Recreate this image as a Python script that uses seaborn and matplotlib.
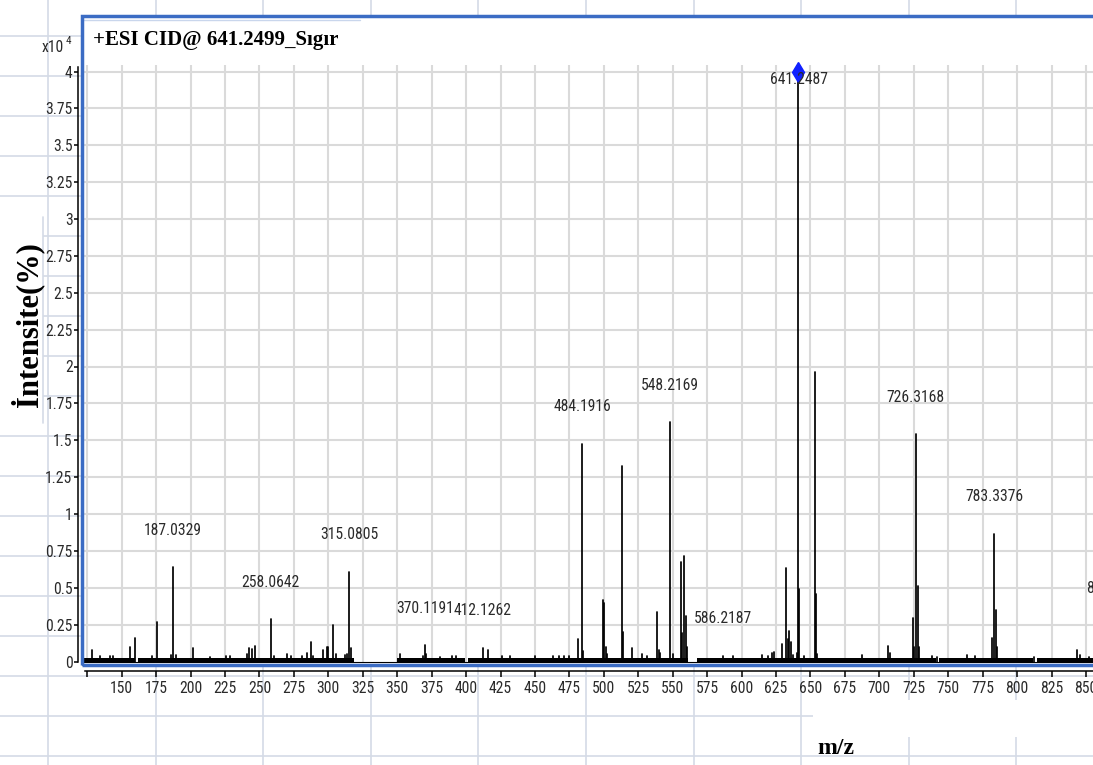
import numpy as np
import pandas as pd
import matplotlib
matplotlib.use("Agg")
import matplotlib.pyplot as plt
from matplotlib import font_manager
from matplotlib.font_manager import FontProperties
from matplotlib.lines import Line2D
from matplotlib.patches import Rectangle
from matplotlib.textpath import TextPath
import seaborn as sns

# ---------------------------------------------------------------- data
# Annotated fragment ions: m/z and intensity (x10^4 counts)
label_mz = [187.0329, 258.0642, 315.0805, 370.1191, 412.1262, 484.1916,
            548.2169, 586.2187, 641.2487, 726.3168, 783.3376, 871.3986]
label_int = [0.64, 0.285, 0.61, 0.11, 0.093, 1.476,
             1.623, 0.04, 4.03, 1.539, 0.866, 0.244]

# Unannotated peaks: m/z and intensity (x10^4 counts)
peak_mz = [128.2, 134.2, 141.5, 143.9, 156.0, 159.8, 171.8, 175.9, 185.6, 189.5,
           201.8, 214.1, 225.5, 228.7, 240.7, 242.6, 244.3, 246.8, 260.6, 270.2,
           272.6, 280.6, 284.3, 287.4, 289.0, 296.3, 298.8, 300.1, 303.4, 305.3,
           312.1, 313.3, 316.1, 352.0, 368.9, 371.2, 381.0, 389.5, 393.0, 416.1,
           425.7, 431.9, 450.2, 463.3, 467.7, 471.0, 474.9, 481.4, 485.2, 499.2,
           500.2, 501.3, 502.3, 513.2, 514.2, 520.4, 527.4, 531.0, 538.8, 539.8,
           540.7, 550.3, 556.0, 557.0, 558.4, 559.4, 560.4, 594.0, 614.6, 619.4,
           621.8, 623.8, 629.5, 632.2, 633.5, 634.6, 635.7, 637.5, 639.9, 642.0,
           645.0, 653.0, 654.0, 655.0, 687.2, 706.0, 707.5, 724.2, 725.3, 727.8,
           728.8, 738.0, 741.6, 763.4, 769.5, 782.0, 784.3, 785.3, 812.0, 843.4,
           845.8, 851.9]
peak_int = [0.081, 0.04, 0.035, 0.035, 0.095, 0.16, 0.035, 0.27, 0.045, 0.045,
            0.093, 0.03, 0.04, 0.035, 0.05, 0.093, 0.085, 0.108, 0.04, 0.05,
            0.04, 0.035, 0.055, 0.13, 0.04, 0.08, 0.1, 0.1, 0.245, 0.05,
            0.045, 0.05, 0.093, 0.05, 0.04, 0.05, 0.03, 0.04, 0.035, 0.075,
            0.035, 0.04, 0.035, 0.04, 0.04, 0.04, 0.04, 0.15, 0.07, 0.42,
            0.40, 0.1, 0.05, 1.324, 0.2, 0.09, 0.05, 0.04, 0.335, 0.08,
            0.055, 0.05, 0.673, 0.195, 0.714, 0.31, 0.1, 0.035, 0.045, 0.04,
            0.055, 0.065, 0.12, 0.635, 0.15, 0.21, 0.13, 0.045, 0.055, 0.49,
            0.04, 1.96, 0.46, 0.05, 0.045, 0.104, 0.06, 0.296, 0.1, 0.51,
            0.1, 0.035, 0.03, 0.045, 0.035, 0.16, 0.35, 0.1, 0.03, 0.08,
            0.045, 0.03]

# m/z ranges covered by the dense baseline noise
noise_start = [121.5, 162.0, 350.0, 401.5, 567.5, 743.0, 814.5]
noise_end = [159.5, 318.5, 399.5, 561.0, 741.0, 811.5, 860.0]
noise_level = 0.022

precursor_mz = 641.2499
precursor_mark = 4.0

x_ticks = list(range(125, 851, 25))
x_tick_labels = [""] + [str(v) for v in range(150, 851, 25)]
y_ticks = [0, 0.25, 0.5, 0.75, 1, 1.25, 1.5, 1.75, 2, 2.25, 2.5, 2.75,
           3, 3.25, 3.5, 3.75, 4]
y_tick_labels = ["0", "0.25", "0.5", "0.75", "1", "1.25", "1.5", "1.75", "2",
                 "2.25", "2.5", "2.75", "3", "3.25", "3.5", "3.75", "4"]

title = "+ESI CID@ 641.2499_Sıgır"
y_title = "İntensite(%)"
x_title = "m/z"

# ---------------------------------------------------------------- style
sns.set_style("white")
SERIF = "Liberation Serif"
DPI = 100


def narrow_font():
    """Pick an installed narrow/condensed sans face for the numbers."""
    prefs = ["liberation sans narrow", "roboto condensed", "open sans condensed",
             "noto sans condensed", "dejavu sans"]
    found = []
    for f in font_manager.fontManager.ttflist:
        nm = f.name.lower()
        cond = ("narrow" in nm or "condensed" in nm
                or str(f.stretch).lower() in ("condensed", "semi-condensed",
                                              "extra-condensed", "ultra-condensed"))
        if not cond or "mono" in nm or "serif" in nm:
            continue
        if f.style != "normal" or f.weight not in (400, "normal", "regular", "book"):
            continue
        rank = next((i for i, p in enumerate(prefs) if nm.startswith(p)), len(prefs))
        found.append((rank, f.fname))
    if found:
        found.sort()
        return FontProperties(fname=found[0][1])
    return FontProperties(family="Liberation Sans")


NUM_FP = narrow_font()
# size the numbers so that one digit is about 7.5 px wide
digit_em = TextPath((0, 0), "00000000", size=1, prop=NUM_FP).get_extents().width / 8.0
NUM_SIZE = min(14.0, 7.5 / digit_em * 72.0 / DPI)


def num_props(size=None):
    fp = NUM_FP.copy()
    fp.set_size(size if size is not None else NUM_SIZE)
    return fp


W, H = 1093, 765
fig = plt.figure(figsize=(W / DPI, H / DPI), dpi=DPI)
fig.patch.set_facecolor("white")


def fx(px):
    return px / W


def fy(py):
    return 1 - py / H


# worksheet cell lines behind the chart
SHEET = "#d4dae6"
for k in range(10):
    xv = 48 + 107.6 * k
    fig.add_artist(Line2D([fx(xv)] * 2, [0, 1], transform=fig.transFigure,
                          color=SHEET, lw=1.2, zorder=-3))
for k in range(19):
    yv = 36 + 40 * k
    fig.add_artist(Line2D([0, 1], [fy(yv)] * 2, transform=fig.transFigure,
                          color=SHEET, lw=1.2, zorder=-3))
# text boxes holding the axis titles
fig.add_artist(Rectangle((0, fy(423)), fx(43), fy(217) - fy(423),
                         transform=fig.transFigure, facecolor="white",
                         edgecolor="none", zorder=-2))
fig.add_artist(Line2D([fx(43)] * 2, [fy(217), fy(423)], transform=fig.transFigure,
                      color=SHEET, lw=1.2, zorder=-1))
fig.add_artist(Rectangle((fx(813), fy(737)), fx(300), fy(700) - fy(737),
                         transform=fig.transFigure, facecolor="white",
                         edgecolor="none", zorder=-2))

# ---------------------------------------------------------------- axes
left_px, right_px, top_px, bottom_px = 82, 1100, 15.5, 665.0
ax = fig.add_axes([fx(left_px), fy(bottom_px), fx(right_px - left_px),
                   (bottom_px - top_px) / H])
ax.set_facecolor("white")

px_per_mz = 1.3776
px_per_unit = 147.5
mz150_px = 121.7
zero_px = 661.5
ax.set_xlim(150 - (mz150_px - left_px) / px_per_mz,
            150 + (right_px - mz150_px) / px_per_mz)
ax.set_ylim(-(bottom_px - zero_px) / px_per_unit,
            (zero_px - top_px) / px_per_unit)
x_lo, x_hi = ax.get_xlim()
y_lo, y_hi = ax.get_ylim()

# chart gridlines
GRID = "#dadada"
grid_top = (zero_px - 65) / px_per_unit
ax.vlines(x_ticks, 0, grid_top, color=GRID, lw=1.5, zorder=0)
ax.hlines(y_ticks[1:], x_lo, x_hi, color=GRID, lw=1.5, zorder=0)
ax.axhline((zero_px - 20) / px_per_unit, xmin=0, xmax=0.273,
           color="#c9d6ec", lw=1.0, zorder=1)

# baseline and noise band
ax.hlines(0, x_lo, x_hi, color="black", lw=0.8, zorder=2)
for s, e in zip(noise_start, noise_end):
    ax.fill_between([s, e], 0, noise_level, color="black", lw=0, zorder=2)

# peak sticks
all_mz = label_mz + peak_mz
all_int = label_int + peak_int
n = len(all_mz)
sticks = pd.DataFrame({
    "mz": np.repeat(all_mz, 2),
    "intensity": np.column_stack([np.zeros(n), all_int]).ravel(),
    "peak": np.repeat(np.arange(n), 2),
})
sns.lineplot(data=sticks, x="mz", y="intensity", units="peak", estimator=None,
             color="black", lw=1.25, ax=ax, legend=False, zorder=3)
ax.set_xlabel("")
ax.set_ylabel("")

# precursor marker
ax.plot([precursor_mz], [precursor_mark], marker="d", ms=10, color="#1020ff",
        mec="#1020ff", zorder=5, clip_on=False)

# peak annotations
label_cap = (zero_px - 80) / px_per_unit
label_gap = 37 / px_per_unit
for m, v in zip(label_mz, label_int):
    ax.text(m, min(v + label_gap, label_cap), f"{m:.4f}", ha="center", va="center",
            fontproperties=num_props(), color="#2a2a2a", zorder=6, clip_on=False)

# blue chart frame
FRAME = "#3b6cc4"
ax.add_patch(Rectangle((0, 0), 1, 1, transform=ax.transAxes, fill=False,
                       edgecolor=FRAME, lw=2.5, clip_on=False, zorder=10))

# black value axes
for side in ("top", "right"):
    ax.spines[side].set_visible(False)
ax.spines["left"].set_position(("outward", 2.9))
ax.spines["left"].set_bounds(0, 4.03)
ax.spines["bottom"].set_position(("outward", 4.0))
ax.spines["bottom"].set_bounds(123.4, x_hi)
for side in ("left", "bottom"):
    ax.spines[side].set_color("black")
    ax.spines[side].set_linewidth(1.1)
    ax.spines[side].set_visible(True)

ax.set_xticks(x_ticks)
ax.set_xticklabels(x_tick_labels)
ax.set_yticks(y_ticks)
ax.set_yticklabels(y_tick_labels)
ax.tick_params(axis="x", direction="out", length=4.3, width=1.1, color="black",
               pad=3.5, labelcolor="#2a2a2a", bottom=True)
ax.tick_params(axis="y", direction="out", length=2.9, width=1.1, color="black",
               pad=1, labelcolor="#2a2a2a", left=True)
for lbl in ax.get_xticklabels() + ax.get_yticklabels():
    lbl.set_fontproperties(num_props())
ax.grid(False)

# ---------------------------------------------------------------- texts
fig.text(fx(93), fy(40), title, family=SERIF, weight="bold", fontsize=15,
         ha="left", va="center", color="black")
fig.text(fx(27), fy(325), y_title, family=SERIF, weight="bold", fontsize=22,
         rotation=90, ha="center", va="center", color="black")
fig.text(fx(836), fy(749), x_title, family=SERIF, weight="bold", fontsize=17,
         ha="center", va="center", color="black")
fig.text(fx(64), fy(47), "x10", fontproperties=num_props(NUM_SIZE),
         ha="right", va="center", color="#2a2a2a")
fig.text(fx(66), fy(41), "4", fontproperties=num_props(NUM_SIZE * 0.72),
         ha="left", va="center", color="#2a2a2a")

fig.savefig("out.png", dpi=DPI)
